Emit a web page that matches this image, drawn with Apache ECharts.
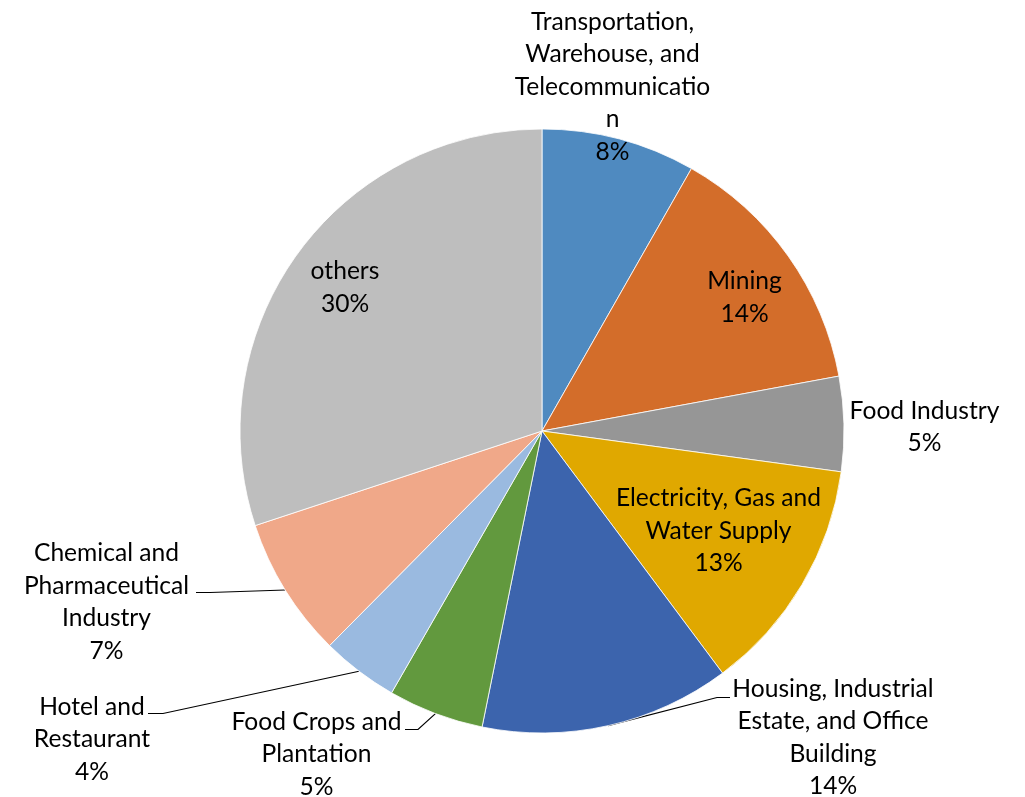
<!DOCTYPE html>
<html>
<head>
<meta charset="utf-8">
<style>html,body{margin:0;padding:0;background:#fff}#chart{width:1025px;height:797px}</style>
<script src="https://cdn.jsdelivr.net/npm/echarts@6/dist/echarts.min.js"></script>
</head>
<body>
<div id="chart"></div>
<script>
// ---- data ----
var categories = [
  'Transportation,\nWarehouse, and\nTelecommunicatio\nn',
  'Mining',
  'Food Industry',
  'Electricity, Gas and\nWater Supply',
  'Housing, Industrial\nEstate, and Office\nBuilding',
  'Food Crops and\nPlantation',
  'Hotel and\nRestaurant',
  'Chemical and\nPharmaceutical\nIndustry',
  'others'
];
var values = [8.24, 13.85, 5.07, 12.64, 13.38, 5.12, 4.12, 7.51, 30.07];
var pctLabels = ['8%', '14%', '5%', '13%', '14%', '5%', '4%', '7%', '30%'];

// ---- styling / layout (not data) ----
var colors = ['#4F8AC0', '#D36D2A', '#969696', '#E0A800', '#3C64AD', '#62993E', '#9ABAE0', '#F0A889', '#BEBEBE'];
// label block centres
var labelPos = [
  [612.5, 87], [744.5, 297.5], [924.5, 427], [718.5, 531], [833, 737.5],
  [316.5, 754.5], [92, 739.5], [106.5, 602], [345, 287.5]
];
// leader-line anchor at label side: [anchorX, anchorY, kneeX]
var lineAnchor = {
  4: [730, 697.5, 717],
  5: [405, 729.5, 418],
  6: [148, 713.5, 163],
  7: [196, 592.5, 210]
};
var CX = 542, CY = 431, R = 302;

var data = categories.map(function (name, i) {
  return {
    name: name,
    value: values[i],
    itemStyle: { color: colors[i] },
    labelLine: { show: lineAnchor[i] !== undefined }
  };
});

var chart = echarts.init(document.getElementById('chart'), null, { renderer: 'canvas' });
chart.setOption({
  animation: false,
  backgroundColor: '#fff',
  series: [{
    type: 'pie',
    center: [CX, CY],
    radius: [0, R],
    startAngle: 90,
    clockwise: true,
    avoidLabelOverlap: false,
    data: data,
    itemStyle: { borderColor: '#ffffff', borderWidth: 0.8 },
    emphasis: { disabled: true },
    label: {
      show: true,
      position: 'outside',
      color: '#000',
      fontFamily: 'Lato',
      fontSize: 24.6,
      lineHeight: 32.5,
      align: 'center',
      formatter: function (p) { return p.name + '\n' + pctLabels[p.dataIndex]; }
    },
    labelLine: {
      length: 10, length2: 10, smooth: false,
      lineStyle: { color: '#000', width: 1.2 }
    },
    labelLayout: function (params) {
      var i = params.dataIndex;
      var p = labelPos[i];
      var out = { x: p[0], y: p[1], align: 'center', verticalAlign: 'middle' };
      var a = lineAnchor[i];
      if (a) {
        var start = params.labelLinePoints && params.labelLinePoints[0];
        if (!start) {
          var before = 0, total = 0;
          values.forEach(function (v, k) { total += v; if (k < i) before += v; });
          var ang = (before + values[i] / 2) / total * 2 * Math.PI;
          start = [CX + R * Math.sin(ang), CY - R * Math.cos(ang)];
        }
        out.labelLinePoints = [start, [a[2], a[1]], [a[0], a[1]]];
      }
      return out;
    }
  }]
});
</script>
</body>
</html>
